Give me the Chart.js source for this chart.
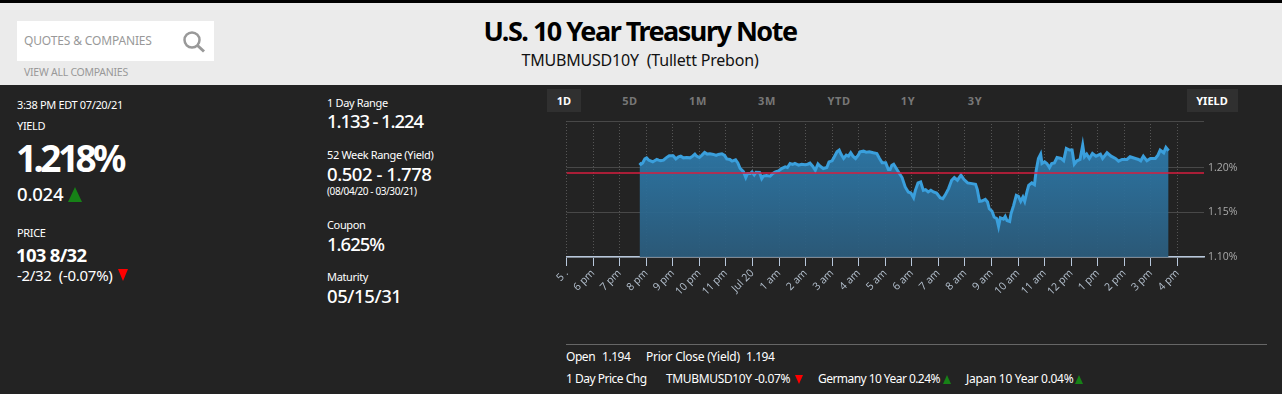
<!DOCTYPE html>
<html>
<head>
<meta charset="utf-8">
<title>U.S. 10 Year Treasury Note</title>
<script src="https://cdn.jsdelivr.net/npm/chart.js@4"></script>
<style>
html, body { margin: 0; padding: 0; }
body { width: 1282px; height: 394px; overflow: hidden; background: #232323; font-family: "Noto Sans", sans-serif; color: #fff; position: relative; }
.band { position: absolute; left: 0; width: 1282px; }
.t { position: absolute; transform: translateY(-50%); white-space: nowrap; line-height: 1; }
.c { transform: translate(-50%, -50%); }
.small { font-size: 11px; letter-spacing: -0.35px; }
.mid { font-size: 18.5px; font-weight: 500; letter-spacing: -0.5px; }
.foot { font-size: 12px; letter-spacing: -0.45px; }
.range { font-size: 11px; font-weight: 700; color: #777; letter-spacing: 0.6px; }
.box { position: absolute; background: #303030; }
.up, .down { position: absolute; width: 0; height: 0; }
#chart { position: absolute; left: 540px; top: 86px; }
</style>
</head>
<body>
<div class="band" style="top:0;height:3px;background:#000"></div>
<div class="band" style="top:3px;height:82px;background:#ebebeb"></div>
<div style="position:absolute;left:17px;top:21px;width:197px;height:40px;background:#fff"></div>
<div class="t" style="left:24px;top:41px;font-size:12px;color:#999;letter-spacing:-0.15px">QUOTES &amp; COMPANIES</div>
<svg style="position:absolute;left:182px;top:30px" width="24" height="24">
  <circle cx="10" cy="10" r="7.5" fill="none" stroke="#999" stroke-width="2.5"/>
  <line x1="15.5" y1="15.5" x2="22" y2="21.5" stroke="#999" stroke-width="3"/>
</svg>
<div class="t" style="left:24px;top:72px;font-size:10.5px;color:#999;letter-spacing:-0.25px">VIEW ALL COMPANIES</div>
<div class="t c" style="left:640px;top:30px;font-size:27px;font-weight:700;color:#000;letter-spacing:-1.5px">U.S. 10 Year Treasury Note</div>
<div class="t c" style="left:640px;top:60px;font-size:16px;color:#111;letter-spacing:-0.2px">TMUBMUSD10Y&nbsp; (Tullett Prebon)</div>

<div class="t small" style="left:17px;top:104px">3:38 PM EDT 07/20/21</div>
<div class="t small" style="left:17px;top:125px">YIELD</div>
<div class="t" style="left:16px;top:157px;font-size:37px;font-weight:700;letter-spacing:-3.6px">1.218%</div>
<div class="t mid" style="left:17px;top:194px;letter-spacing:-0.2px">0.024</div>
<div class="up" style="left:68px;top:187px;border-left:7px solid transparent;border-right:7px solid transparent;border-bottom:15px solid #178217"></div>
<div class="t small" style="left:17px;top:232px">PRICE</div>
<div class="t" style="left:16px;top:255px;font-size:18.5px;font-weight:700;letter-spacing:-0.7px">103 8/32</div>
<div class="t" style="left:17px;top:275px;font-size:15px;letter-spacing:-0.3px">-2/32&nbsp; (-0.07%)</div>
<div class="down" style="left:118px;top:269px;border-left:5.5px solid transparent;border-right:5.5px solid transparent;border-top:12px solid #f00"></div>

<div class="t small" style="left:327px;top:102px">1 Day Range</div>
<div class="t mid" style="left:327px;top:121px;letter-spacing:-1.1px">1.133 - 1.224</div>
<div class="t small" style="left:327px;top:154px">52 Week Range (Yield)</div>
<div class="t mid" style="left:327px;top:174px;letter-spacing:-0.45px">0.502 - 1.778</div>
<div class="t" style="left:327px;top:191px;font-size:10px;letter-spacing:-0.4px">(08/04/20 - 03/30/21)</div>
<div class="t small" style="left:327px;top:224px">Coupon</div>
<div class="t mid" style="left:327px;top:244px;letter-spacing:-1px">1.625%</div>
<div class="t small" style="left:327px;top:276px">Maturity</div>
<div class="t mid" style="left:327px;top:296px;letter-spacing:-0.4px">05/15/31</div>

<div class="box" style="left:547px;top:89px;width:34px;height:23px"></div>
<div class="box" style="left:1187px;top:89px;width:51px;height:23px"></div>
<div id="ranges"></div>

<canvas id="chart" width="742" height="240"></canvas>

<div style="position:absolute;left:566px;top:344px;width:701px;height:1px;background:#666"></div>
<div class="t foot" style="left:566px;top:357px">Open</div>
<div class="t foot" style="left:602px;top:357px">1.194</div>
<div class="t foot" style="left:646px;top:357px;letter-spacing:-0.25px">Prior Close (Yield)</div>
<div class="t foot" style="left:746px;top:357px">1.194</div>
<div class="t foot" style="left:566px;top:379px;letter-spacing:-0.5px">1 Day Price Chg</div>
<div class="t foot" style="left:666px;top:379px;letter-spacing:-0.35px">TMUBMUSD10Y -0.07%</div>
<div class="down" style="left:795px;top:375px;border-left:4px solid transparent;border-right:4px solid transparent;border-top:9px solid #f00"></div>
<div class="t foot" style="left:818px;top:379px;letter-spacing:-0.55px">Germany 10 Year 0.24%</div>
<div class="up" style="left:943px;top:375px;border-left:4px solid transparent;border-right:4px solid transparent;border-bottom:9px solid #178217"></div>
<div class="t foot" style="left:966px;top:379px;letter-spacing:-0.3px">Japan 10 Year 0.04%</div>
<div class="up" style="left:1075px;top:375px;border-left:4px solid transparent;border-right:4px solid transparent;border-bottom:9px solid #178217"></div>

<script>
// minutes after 5 pm on Jul 19
const minutes = [165,168,172,177,181,186,190,195,199,204,208,213,219,225,232,241,247,253,258,264,272,279,285,290,294,300,306,312,318,324,332,338,343,351,357,362,369,374,382,387,392,400,405,409,415,419,424,428,436,441,445,452,460,466,472,479,486,494,499,505,511,516,524,531,539,545,550,556,562,568,573,580,588,593,600,605,611,616,620,626,632,637,642,647,653,659,663,671,677,684,693,701,707,713,721,727,731,735,739,745,752,758,765,772,778,784,788,794,800,806,811,817,823,829,836,844,850,855,863,870,876,883,891,898,906,916,924,928,933,938,946,951,955,961,966,972,976,980,987,991,995,1001,1004,1010,1016,1021,1026,1031,1035,1040,1044,1051,1057,1061,1066,1071,1074,1080,1085,1091,1096,1102,1108,1117,1123,1129,1136,1142,1147,1153,1160,1166,1170,1175,1181,1188,1196,1206,1211,1221,1230,1240,1247,1255,1266,1273,1285,1292,1297,1303,1311,1319,1330,1336,1341,1349,1354,1360];
const yields = [1.2052,1.2037,1.2052,1.2097,1.2108,1.2082,1.2075,1.2063,1.2075,1.2090,1.2082,1.2075,1.2082,1.2108,1.2131,1.2131,1.2097,1.2120,1.2127,1.2108,1.2112,1.2108,1.2127,1.2150,1.2127,1.2112,1.2138,1.2168,1.2150,1.2153,1.2146,1.2135,1.2146,1.2153,1.2135,1.2097,1.2090,1.2071,1.2086,1.2052,1.1992,1.1951,1.1888,1.1933,1.1933,1.1951,1.1917,1.1947,1.1944,1.1876,1.1906,1.1910,1.1903,1.1933,1.1951,1.1962,1.1989,1.2007,1.2000,1.2045,1.2034,1.2045,1.2026,1.2037,1.2030,1.2037,1.2049,1.2015,1.1970,1.2041,1.2015,1.1989,1.2000,1.2063,1.2075,1.2120,1.2176,1.2195,1.2150,1.2101,1.2138,1.2127,1.2165,1.2127,1.2101,1.2138,1.2176,1.2183,1.2172,1.2176,1.2165,1.2157,1.2101,1.2052,1.2052,1.1977,1.1977,1.2026,1.2037,1.1989,1.1933,1.1888,1.1783,1.1727,1.1715,1.1663,1.1745,1.1828,1.1839,1.1745,1.1753,1.1727,1.1745,1.1727,1.1715,1.1663,1.1652,1.1689,1.1764,1.1858,1.1888,1.1858,1.1914,1.1865,1.1828,1.1820,1.1813,1.1753,1.1622,1.1625,1.1644,1.1614,1.1539,1.1513,1.1446,1.1427,1.1341,1.1438,1.1423,1.1453,1.1408,1.1397,1.1483,1.1577,1.1689,1.1678,1.1622,1.1670,1.1622,1.1727,1.1801,1.1828,1.1809,1.1970,1.2101,1.2150,1.2045,1.2064,1.2045,1.2000,1.2045,1.2052,1.2112,1.2101,1.2075,1.2213,1.2195,1.2195,1.2037,1.2075,1.2090,1.2251,1.2120,1.2150,1.2101,1.2157,1.2127,1.2150,1.2101,1.2165,1.2127,1.2101,1.2071,1.2090,1.2090,1.2120,1.2101,1.2090,1.2075,1.2127,1.2075,1.2101,1.2101,1.2138,1.2195,1.2165,1.2225,1.2187];
const xTickLabels = ['5 .','6 pm','7 pm','8 pm','9 pm','10 pm','11 pm','Jul 20','1 am','2 am','3 am','4 am','5 am','6 am','7 am','8 am','9 am','10 am','11 am','12 pm','1 pm','2 pm','3 pm','4 pm'];
const yTickValues = [1.10, 1.15, 1.20];
const yMin = 1.10;
const yMax = 1.252;
const xMax = 1440;
const priorClose = 1.194;
const rangeNames = ['1D','5D','1M','3M','YTD','1Y','3Y','YIELD'];
const rangeCenters = [564,630,698,767,839,908,975,1212];

// range buttons above the chart
const rangesDiv = document.getElementById('ranges');
rangeNames.forEach((name, i) => {
    const el = document.createElement('div');
    el.className = 't c range';
    el.textContent = name;
    el.style.left = rangeCenters[i] + 'px';
    el.style.top = '100px';
    if (name === '1D' || name === 'YIELD') {
        el.style.color = '#fff';
        el.style.letterSpacing = '0';
    }
    rangesDiv.appendChild(el);
});

const fillGradient = (context) => {
    const area = context.chart.chartArea;
    if (!area) return 'rgba(50,130,180,0.9)';
    const g = context.chart.ctx.createLinearGradient(0, area.top, 0, area.bottom);
    g.addColorStop(0, 'rgba(46,128,180,0.95)');
    g.addColorStop(1, 'rgba(44,92,124,0.95)');
    return g;
};

new Chart(document.getElementById('chart'), {
    type: 'line',
    data: {
        datasets: [
            {
                data: [{ x: 0, y: priorClose }, { x: xMax, y: priorClose }],
                borderColor: '#d81e3f',
                borderWidth: 1.5,
                pointRadius: 0,
                fill: false
            },
            {
                data: minutes.map((m, i) => ({ x: m, y: yields[i] })),
                borderColor: '#3a9fdc',
                borderWidth: 3,
                pointRadius: 0,
                tension: 0,
                fill: 'start',
                backgroundColor: fillGradient
            }
        ]
    },
    options: {
        responsive: false,
        animation: false,
        layout: { padding: { left: 26.5, top: 35, right: 0, bottom: 0 } },
        plugins: { legend: { display: false }, tooltip: { enabled: false } },
        scales: {
            x: {
                type: 'linear',
                min: 0,
                max: xMax,
                afterBuildTicks: (scale) => {
                    scale.ticks = xTickLabels.map((_, i) => ({ value: i * 60 }));
                },
                afterFit: (scale) => { scale.height = 69; },
                ticks: {
                    autoSkip: false,
                    minRotation: 45,
                    maxRotation: 45,
                    padding: 1,
                    color: '#b4c0ce',
                    font: { family: 'Open Sans', size: 10.5 },
                    callback: (value) => xTickLabels[value / 60]
                },
                border: { color: '#b8c8dc', width: 1.5, dash: [1, 2] },
                grid: { color: '#555', tickColor: '#b8c8dc', tickLength: 9, tickBorderDash: [], lineWidth: 1 }
            },
            y: {
                position: 'right',
                min: yMin,
                max: yMax,
                afterBuildTicks: (scale) => {
                    scale.ticks = yTickValues.concat(yMax).map(v => ({ value: v }));
                },
                afterFit: (scale) => { scale.width = 78; },
                ticks: {
                    padding: 4,
                    color: '#aaa',
                    font: { family: 'Open Sans', size: 10.5 },
                    callback: (value) => yTickValues.includes(value) ? value.toFixed(2) + '%' : ''
                },
                border: { display: false },
                grid: { color: '#484848', drawTicks: false, lineWidth: 1 }
            }
        }
    }
});
</script>
</body>
</html>
